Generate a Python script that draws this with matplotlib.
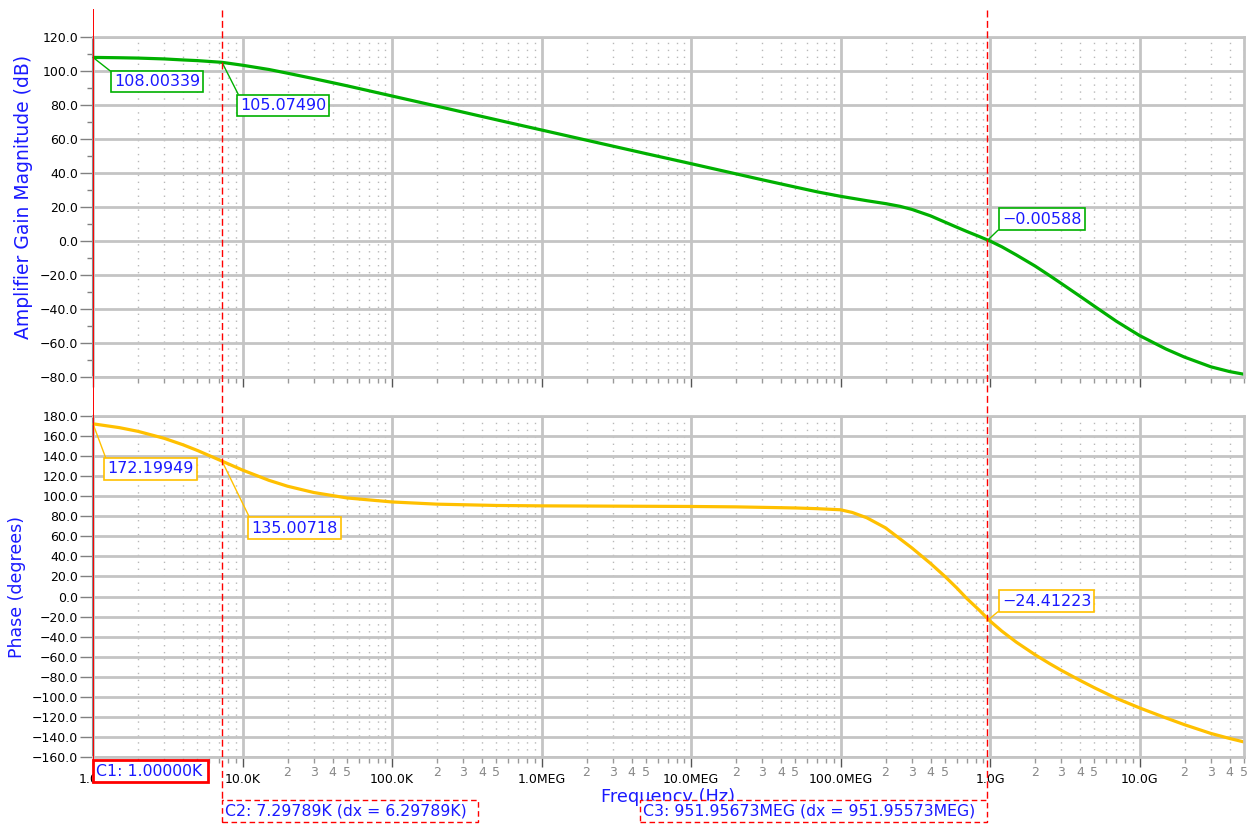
import matplotlib
matplotlib.use('Agg')
import matplotlib.pyplot as plt
from matplotlib.ticker import FixedLocator, FuncFormatter, MultipleLocator
from matplotlib.patches import Rectangle
from matplotlib.transforms import IdentityTransform
import numpy as np

# values (Hz, dB)
gain_freq = [1e3, 1.5e3, 2e3, 3e3, 4e3, 5e3, 7.3e3, 1e4, 1.5e4, 2e4, 3e4, 5e4,
             1e5, 2e5, 5e5, 1e6, 2e6, 5e6, 1e7, 2e7, 3e7, 5e7, 7e7,
             1e8, 1.5e8, 2e8, 2.5e8, 3e8, 4e8, 5e8, 6e8, 7e8, 8.5e8,
             1e9, 1.2e9, 1.5e9, 2e9, 2.5e9, 3e9, 4e9, 5e9, 7e9,
             1e10, 1.5e10, 2e10, 3e10, 4e10, 5e10]
gain_db = [108.0, 107.8, 107.6, 107.1, 106.5, 106.1, 105.1, 103.4, 100.9, 98.7, 95.5, 91.3,
           85.3, 79.3, 71.3, 65.3, 59.3, 51.4, 45.5, 39.5, 36.0, 31.7, 28.9,
           26.3, 23.7, 22.0, 20.4, 18.6, 14.8, 11.1, 8.1, 5.6, 2.6,
           0.0, -3.4, -8.2, -14.7, -20.3, -25.0, -32.5, -38.4, -47.2,
           -55.6, -63.5, -68.3, -74.0, -76.8, -78.4]

# values (Hz, degrees)
phase_freq = [1e3, 1.5e3, 2e3, 3e3, 4e3, 5e3, 7.3e3, 1e4, 1.5e4, 2e4, 3e4, 5e4,
              1e5, 2e5, 5e5, 1e6, 1e7, 2e7, 5e7, 7e7,
              1e8, 1.2e8, 1.5e8, 2e8, 2.5e8, 3e8, 4e8, 5e8, 6e8, 7e8, 8.5e8,
              1e9, 1.2e9, 1.5e9, 2e9, 2.5e9, 3e9, 4e9, 5e9, 7e9,
              1e10, 1.5e10, 2e10, 3e10, 4e10, 5e10]
phase_deg = [172.2, 168.4, 164.7, 157.7, 151.3, 145.6, 135.0, 126.1, 115.9, 110.0, 103.7, 98.3,
             94.3, 92.1, 90.8, 90.4, 89.8, 89.4, 88.3, 87.6,
             86.5, 83.8, 78.5, 68.5, 57.5, 48.5, 33.0, 20.0, 8.5, -2.0, -13.8,
             -24.4, -34.5, -45.5, -58.0, -66.8, -73.6, -83.6, -91.0, -101.5,
             -111.0, -121.0, -127.8, -136.5, -141.5, -145.0]

cursor_freq = [1.0e3, 7.29789e3, 951.95673e6]
cursor_text = ["C1: 1.00000K", "C2: 7.29789K (dx = 6.29789K)",
               "C3: 951.95673MEG (dx = 951.95573MEG)"]
gain_marks = [108.00339, 105.07490, -0.00588]
phase_marks = [172.19949, 135.00718, -24.41223]

GREEN = '#00b000'
GOLD = '#ffc000'
BLUE = '#1a1aff'
GRID = '#c4c4c4'

W, H = 1255, 832
L, R = 93, 1244
XMIN, XMAX = 1e3, 5e10
fig = plt.figure(figsize=(W / 100, H / 100), dpi=100)


def rect(top, bottom):
    return [L / W, 1 - bottom / H, (R - L) / W, (bottom - top) / H]


ax1 = fig.add_axes(rect(37, 377))
ax2 = fig.add_axes(rect(416, 757), sharex=ax1)

decades = [10.0 ** k for k in range(3, 11)]
major_x = decades
minor_x = [d * m for d in decades for m in range(2, 10) if d * m <= XMAX * 1.001]


def fmt_major(v, pos):
    if v >= 1e9:
        return f"{v / 1e9:.1f}G"
    if v >= 1e6:
        return f"{v / 1e6:.1f}MEG"
    return f"{v / 1e3:.1f}K"


def fmt_minor(v, pos):
    m = int(round(v / 10 ** np.floor(np.log10(v) + 1e-9)))
    return str(m) if m in (2, 3, 4, 5) else ""


def fmt_y(v, pos):
    return f"{v:.1f}".replace('-', '\u2212')


for ax in (ax1, ax2):
    ax.set_xscale('log')
    ax.set_xlim(XMIN, XMAX)
    ax.xaxis.set_major_locator(FixedLocator(major_x))
    ax.xaxis.set_minor_locator(FixedLocator(minor_x))
    ax.grid(which='major', color=GRID, lw=2.0)
    ax.grid(which='minor', axis='x', color='#b8b8b8', ls=(0, (1, 4)), lw=1.0)
    ax.set_axisbelow(True)
    ax.tick_params(axis='y', which='major', direction='out', length=9.5, width=1,
                   color='#808080', labelsize=9, pad=1)
    ax.tick_params(axis='y', which='minor', direction='out', length=4.5, width=1,
                   color='#808080')
    ax.tick_params(axis='x', which='major', direction='out', length=7.5, width=1,
                   color='#555555', labelsize=9, pad=4)
    ax.tick_params(axis='x', which='minor', direction='out', length=4.5, width=1,
                   color='#999999', labelsize=9, labelcolor='#888888', pad=2)
    ax.yaxis.set_major_formatter(FuncFormatter(fmt_y))
    for s in ('top', 'right', 'bottom'):
        ax.spines[s].set_color(GRID)
        ax.spines[s].set_linewidth(2.0)
    ax.spines['left'].set_color('#8a8a8a')
    ax.spines['left'].set_linewidth(1.5)

ax1.set_ylim(-80, 120)
ax1.yaxis.set_major_locator(MultipleLocator(20))
ax1.yaxis.set_minor_locator(MultipleLocator(10))
ax1.tick_params(axis='x', which='both', labelbottom=False)
ax2.set_ylim(-160, 180)
ax2.yaxis.set_major_locator(MultipleLocator(20))
ax2.yaxis.set_minor_locator(MultipleLocator(20))
ax2.xaxis.set_major_formatter(FuncFormatter(fmt_major))
ax2.xaxis.set_minor_formatter(FuncFormatter(fmt_minor))

ax1.plot(gain_freq, gain_db, color=GREEN, lw=2.3)
ax2.plot(phase_freq, phase_deg, color=GOLD, lw=2.3)

ax1.set_ylabel("Amplifier Gain Magnitude (dB)", color=BLUE, fontsize=13.5)
ax1.yaxis.set_label_coords(-0.052, 0.53)
ax2.set_ylabel("Phase (degrees)", color=BLUE, fontsize=12.5)
ax2.yaxis.set_label_coords(-0.058, 0.5)
ax2.set_xlabel("Frequency (Hz)", color=BLUE, fontsize=12.8)
ax2.xaxis.set_label_coords(0.5, -0.09)

# value markers at each cursor
gain_offsets = [(21, -24), (18, -43), (15, 22)]
phase_offsets = [(14, -45), (29, -67), (15, 20)]
for ax, marks, offs, col in ((ax1, gain_marks, gain_offsets, GREEN),
                             (ax2, phase_marks, phase_offsets, GOLD)):
    for f, v, (dx, dy) in zip(cursor_freq, marks, offs):
        ax.annotate(f"{v:.5f}".replace('-', '\u2212'), xy=(f, v), xytext=(dx, dy),
                    textcoords='offset pixels', ha='left', va='center',
                    color=BLUE, fontsize=11.5, zorder=5, annotation_clip=False,
                    bbox=dict(boxstyle='square,pad=0.2', fc='white', ec=col, lw=1.2),
                    arrowprops=dict(arrowstyle='-', color=col, lw=1.0,
                                    shrinkA=0, shrinkB=0,
                                    relpos=(0, 1) if dy < 0 else (0, 0)))

# overlay in pixel rows for the cursors spanning both panels
ov = fig.add_axes([L / W, 0, (R - L) / W, 1], zorder=10)
ov.set_xscale('log')
ov.set_xlim(XMIN, XMAX)
ov.set_ylim(H, 0)
ov.axis('off')

ov.plot([cursor_freq[0]] * 2, [10, 760], color='red', lw=1.4)
ov.plot([cursor_freq[1]] * 2, [10, 800], color='red', lw=1.0, ls=(0, (5, 2.5)))
ov.plot([cursor_freq[2]] * 2, [10, 800], color='red', lw=1.0, ls=(0, (5, 2.5)))

# cursor read-out boxes, placed in display pixels next to each cursor line
px = [ov.transData.transform((f, 0))[0] for f in cursor_freq]
boxes = [  # (left, width, top row, bottom row, line width, style)
    (px[0], 115, 760, 782, 2.0, '-'),
    (px[1], 256, 800, 822, 1.0, (0, (4, 2.5))),
    (px[2] - 347, 347, 800, 822, 1.0, (0, (4, 2.5))),
]
for txt, (x0, w, top, bot, lw, ls) in zip(cursor_text, boxes):
    fig.add_artist(Rectangle((x0, H - bot), w, bot - top, transform=IdentityTransform(),
                             fc='white', ec='red', lw=lw, ls=ls, zorder=20))
    fig.text(x0 + 3, H - (top + bot) / 2, txt, transform=IdentityTransform(),
             ha='left', va='center', color=BLUE, fontsize=11.3, zorder=21)

fig.savefig('out.png', dpi=100)
